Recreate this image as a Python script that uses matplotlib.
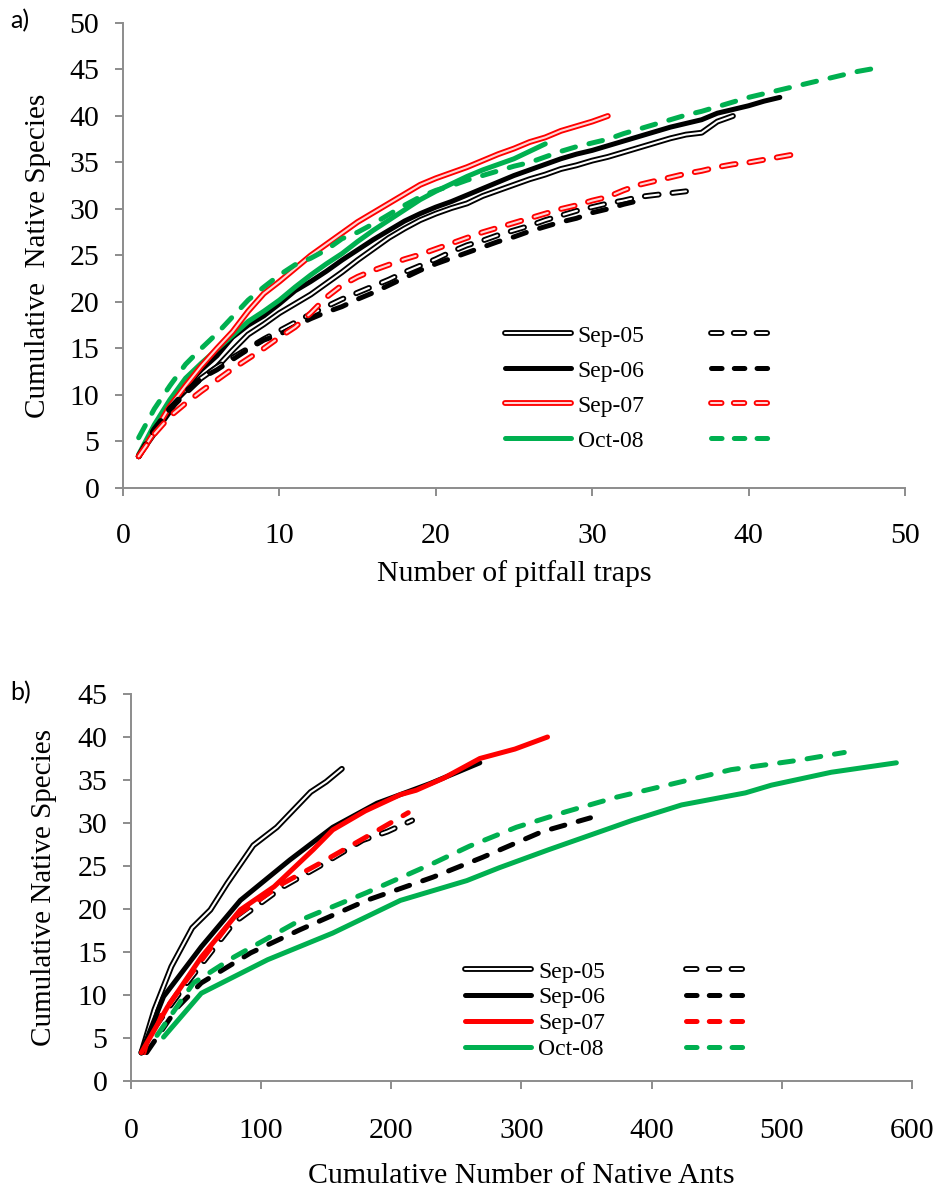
import matplotlib
matplotlib.use("Agg")
import matplotlib.pyplot as plt
import matplotlib.patheffects as pe
from matplotlib.lines import Line2D

plt.rcParams['font.family'] = ['Liberation Serif', 'DejaVu Serif']
plt.rcParams['lines.scale_dashes'] = False

GREEN = '#00B050'
RED = '#FF0000'
AXCOL = '#8C8C8C'

# ---- panel a: cumulative native species vs number of pitfall traps ----
a_sep05 = [3.4, 6.3, 8.8, 10.5, 11.8, 13.0, 14.8, 16.5, 17.6, 18.8, 19.8, 20.8, 22.0, 23.2, 24.5,
           25.7, 26.9, 27.9, 28.8, 29.5, 30.1, 30.6, 31.4, 32.0, 32.6, 33.2, 33.7, 34.3, 34.7, 35.2,
           35.6, 36.1, 36.6, 37.1, 37.6, 38.0, 38.2, 39.4, 40.0]
a_sep06 = [3.4, 5.8, 8.2, 10.9, 12.7, 14.2, 16.2, 17.5, 18.5, 19.8, 21.2, 22.2, 23.3, 24.5, 25.6,
           26.7, 27.7, 28.7, 29.5, 30.2, 30.8, 31.5, 32.2, 32.9, 33.6, 34.2, 34.8, 35.4, 35.9, 36.3,
           36.8, 37.3, 37.8, 38.3, 38.8, 39.2, 39.6, 40.3, 40.7, 41.1, 41.6, 42.0]
a_sep07 = [3.4, 6.0, 8.8, 11.0, 13.1, 15.0, 16.8, 19.0, 20.9, 22.2, 23.6, 25.0, 26.2, 27.4, 28.6,
           29.6, 30.6, 31.6, 32.6, 33.3, 33.9, 34.5, 35.2, 35.9, 36.5, 37.2, 37.7, 38.4, 38.9, 39.4,
           40.0]
a_oct08 = [3.6, 6.8, 9.5, 11.8, 13.4, 14.9, 16.4, 17.9, 19.0, 20.2, 21.6, 22.9, 24.1, 25.2, 26.5,
           27.7, 28.8, 29.9, 31.0, 31.9, 32.7, 33.5, 34.2, 34.8, 35.4, 36.2, 37.0]
a_sep05_d = [3.4, 6.3, 8.5, 10.2, 11.8, 13.0, 14.0, 15.0, 16.0, 16.9, 17.8, 18.7, 19.5, 20.3, 21.0,
             21.7, 22.4, 23.2, 23.9, 24.6, 25.4, 26.1, 26.6, 27.2, 27.7, 28.2, 28.8, 29.3, 29.8, 30.2,
             30.6, 30.9, 31.3, 31.5, 31.7, 31.9]
a_sep06_d = [3.4, 6.2, 8.6, 10.4, 11.8, 12.7, 13.8, 14.9, 15.9, 16.5, 17.4, 18.2, 18.9, 19.5, 20.3,
             21.0, 21.8, 22.6, 23.4, 24.1, 24.7, 25.3, 25.9, 26.5, 27.0, 27.6, 28.1, 28.6, 29.0, 29.6,
             30.0, 30.5, 30.9]
a_sep07_d = [3.4, 5.8, 7.7, 9.1, 10.4, 11.6, 12.8, 13.9, 15.0, 16.2, 17.3, 18.8, 20.5, 21.8, 22.7,
             23.4, 24.0, 24.6, 25.1, 25.7, 26.3, 26.9, 27.5, 28.0, 28.5, 29.0, 29.5, 30.0, 30.4, 30.9,
             31.3, 32.0, 32.6, 33.0, 33.4, 33.8, 34.1, 34.5, 34.8, 35.0, 35.3, 35.6, 35.9]
a_oct08_d = [5.4, 8.5, 11.0, 13.3, 15.0, 16.6, 18.4, 20.2, 21.6, 22.9, 24.0, 24.7, 25.6, 26.8, 27.5,
             28.4, 29.4, 30.4, 31.3, 32.0, 32.5, 33.1, 33.6, 34.1, 34.6, 35.0, 35.6, 36.2, 36.7, 37.1,
             37.5, 38.1, 38.6, 39.1, 39.6, 40.1, 40.5, 41.0, 41.5, 42.0, 42.4, 42.8, 43.2, 43.6, 44.0,
             44.4, 44.8, 45.1]

# ---- panel b: cumulative native species vs cumulative number of native ants ----
b_sep05_x = [8, 18, 31, 47, 61, 74, 94, 112, 138, 150, 162]
b_sep05_y = [3.3, 8.3, 13.3, 17.8, 19.9, 23.0, 27.4, 29.5, 33.6, 34.8, 36.3]
b_sep06_x = [8, 25, 54, 84, 122, 155, 189, 230, 268]
b_sep06_y = [3.3, 9.8, 15.6, 21.0, 25.7, 29.5, 32.3, 34.6, 37.0]
b_sep07_x = [8, 28, 54, 84, 110, 140, 155, 180, 207, 219, 240, 268, 295, 320]
b_sep07_y = [3.3, 8.6, 14.4, 19.9, 22.6, 26.9, 29.2, 31.4, 33.3, 33.8, 35.2, 37.5, 38.6, 40.0]
b_oct08_x = [25, 54, 105, 155, 207, 258, 283, 321, 385, 423, 472, 492, 538, 588]
b_oct08_y = [5.1, 10.2, 14.1, 17.2, 21.0, 23.3, 24.8, 26.9, 30.3, 32.1, 33.5, 34.4, 35.9, 37.0]
b_sep05_dx = [8, 15, 41, 79, 117, 145, 178, 197, 216]
b_sep05_dy = [3.3, 5.6, 11.0, 18.4, 22.6, 25.0, 28.0, 29.0, 30.3]
b_sep06_dx = [12, 36, 54, 92, 130, 181, 232, 270, 316, 353]
b_sep06_dy = [3.3, 8.6, 11.4, 14.9, 17.6, 21.0, 23.7, 26.0, 29.0, 30.6]
b_sep07_dx = [10, 15, 41, 79, 117, 145, 181, 213]
b_sep07_dy = [3.3, 5.9, 11.4, 19.0, 23.0, 25.3, 28.4, 31.2]
b_oct08_dx = [20, 48, 79, 130, 181, 232, 260, 296, 334, 373, 423, 461, 513, 548]
b_oct08_dy = [5.3, 11.4, 14.4, 18.7, 21.9, 25.3, 27.3, 29.5, 31.3, 33.0, 34.8, 36.2, 37.3, 38.2]

labels = ['Sep-05', 'Sep-06', 'Sep-07', 'Oct-08']

LW = 3.6
HOLLOW_LW = 4.2
DASH = (10, 10)
LEG_DASH = (7.6, 8.8)


def style(kind, color, dashed, legend=False):
    kw = dict(solid_capstyle='round', dash_capstyle='round')
    if dashed:
        kw['linestyle'] = (0, LEG_DASH if legend else DASH)
    if kind == 'hollow':
        inner = 'white' if color == 'black' else '#ffd6d6'
        kw.update(color=inner, lw=1.5,
                  path_effects=[pe.Stroke(linewidth=HOLLOW_LW, foreground=color), pe.Normal()])
    else:
        kw.update(color=color, lw=LW)
    return kw


def tidy(ax, xmax, xstep, ymax, ystep, xpad, size):
    for s in ['top', 'right']:
        ax.spines[s].set_visible(False)
    for s in ['left', 'bottom']:
        ax.spines[s].set_color(AXCOL)
        ax.spines[s].set_linewidth(1.4)
    ax.set_xlim(0, xmax)
    ax.set_ylim(0, ymax)
    ax.set_xticks(range(0, xmax + 1, xstep))
    ax.set_yticks(range(0, ymax + 1, ystep))
    ax.tick_params(axis='both', colors=AXCOL, width=1.4, length=6, labelsize=size,
                   labelcolor='black', direction='out')
    ax.tick_params(axis='y', pad=11)
    ax.tick_params(axis='x', pad=xpad)


def legend(ax, styles, anchor, spacing, colspace):
    solid = [Line2D([], [], **style(k, c, False, True)) for k, c in styles]
    dashed = [Line2D([], [], **style(k, c, True, True)) for k, c in styles]
    ax.legend(solid + dashed, labels + [''] * 4, ncol=2, loc='upper left',
              bbox_to_anchor=anchor, frameon=False, fontsize=17, handlelength=2.8,
              handletextpad=0.3, columnspacing=colspace, labelspacing=spacing, borderpad=0,
              borderaxespad=0)


fig = plt.figure(figsize=(9.37, 11.98), dpi=100)

# panel a
ax1 = fig.add_axes([0.1313, 0.5927, 0.8345, 0.3881])
sty_a = [('hollow', 'black'), ('solid', 'black'), ('hollow', RED), ('solid', GREEN)]
a_solid = [a_sep05, a_sep06, a_oct08, a_sep07]
a_sty_solid = [sty_a[0], sty_a[1], sty_a[3], sty_a[2]]
for ys, (k, c) in zip(a_solid, a_sty_solid):
    ax1.plot(range(1, len(ys) + 1), ys, **style(k, c, False))
for ys, (k, c) in zip([a_sep05_d, a_sep06_d, a_sep07_d, a_oct08_d], sty_a):
    ax1.plot(range(1, len(ys) + 1), ys, **style(k, c, True))
tidy(ax1, 50, 10, 50, 5, 19, 21.5)
ax1.set_xlabel('Number of pitfall traps', fontsize=21.5, labelpad=8)
ax1.set_ylabel('Cumulative  Native Species', fontsize=21, labelpad=13)
legend(ax1, sty_a, (0.488, 0.35), 0.57, 2.8)
fig.text(0.011, 0.9825, 'a)', fontsize=18, family=['Lato', 'DejaVu Sans'], va='center')

# panel b
ax2 = fig.add_axes([0.1398, 0.0977, 0.8335, 0.3230])
sty_b = [('hollow', 'black'), ('solid', 'black'), ('solid', RED), ('solid', GREEN)]
ax2.plot(b_oct08_x, b_oct08_y, **style('solid', GREEN, False))
ax2.plot(b_sep06_dx, b_sep06_dy, **style('solid', 'black', True))
ax2.plot(b_oct08_dx, b_oct08_dy, **style('solid', GREEN, True))
ax2.plot(b_sep05_dx, b_sep05_dy, **style('hollow', 'black', True))
ax2.plot(b_sep07_dx, b_sep07_dy, **style('solid', RED, True))
ax2.plot(b_sep05_x, b_sep05_y, **style('hollow', 'black', False))
ax2.plot(b_sep06_x, b_sep06_y, **style('solid', 'black', False))
ax2.plot(b_sep07_x, b_sep07_y, **style('solid', RED, False))
tidy(ax2, 600, 100, 45, 5, 21, 21.5)
ax2.set_xlabel('Cumulative Number of Native Ants', fontsize=21.5, labelpad=13)
ax2.set_ylabel('Cumulative Native Species', fontsize=21, labelpad=15)
legend(ax2, sty_b, (0.428, 0.31), 0.18, 3.4)
fig.text(0.011, 0.4215, 'b)', fontsize=18, family=['Lato', 'DejaVu Sans'], va='center')

fig.savefig('out.png', dpi=100)
